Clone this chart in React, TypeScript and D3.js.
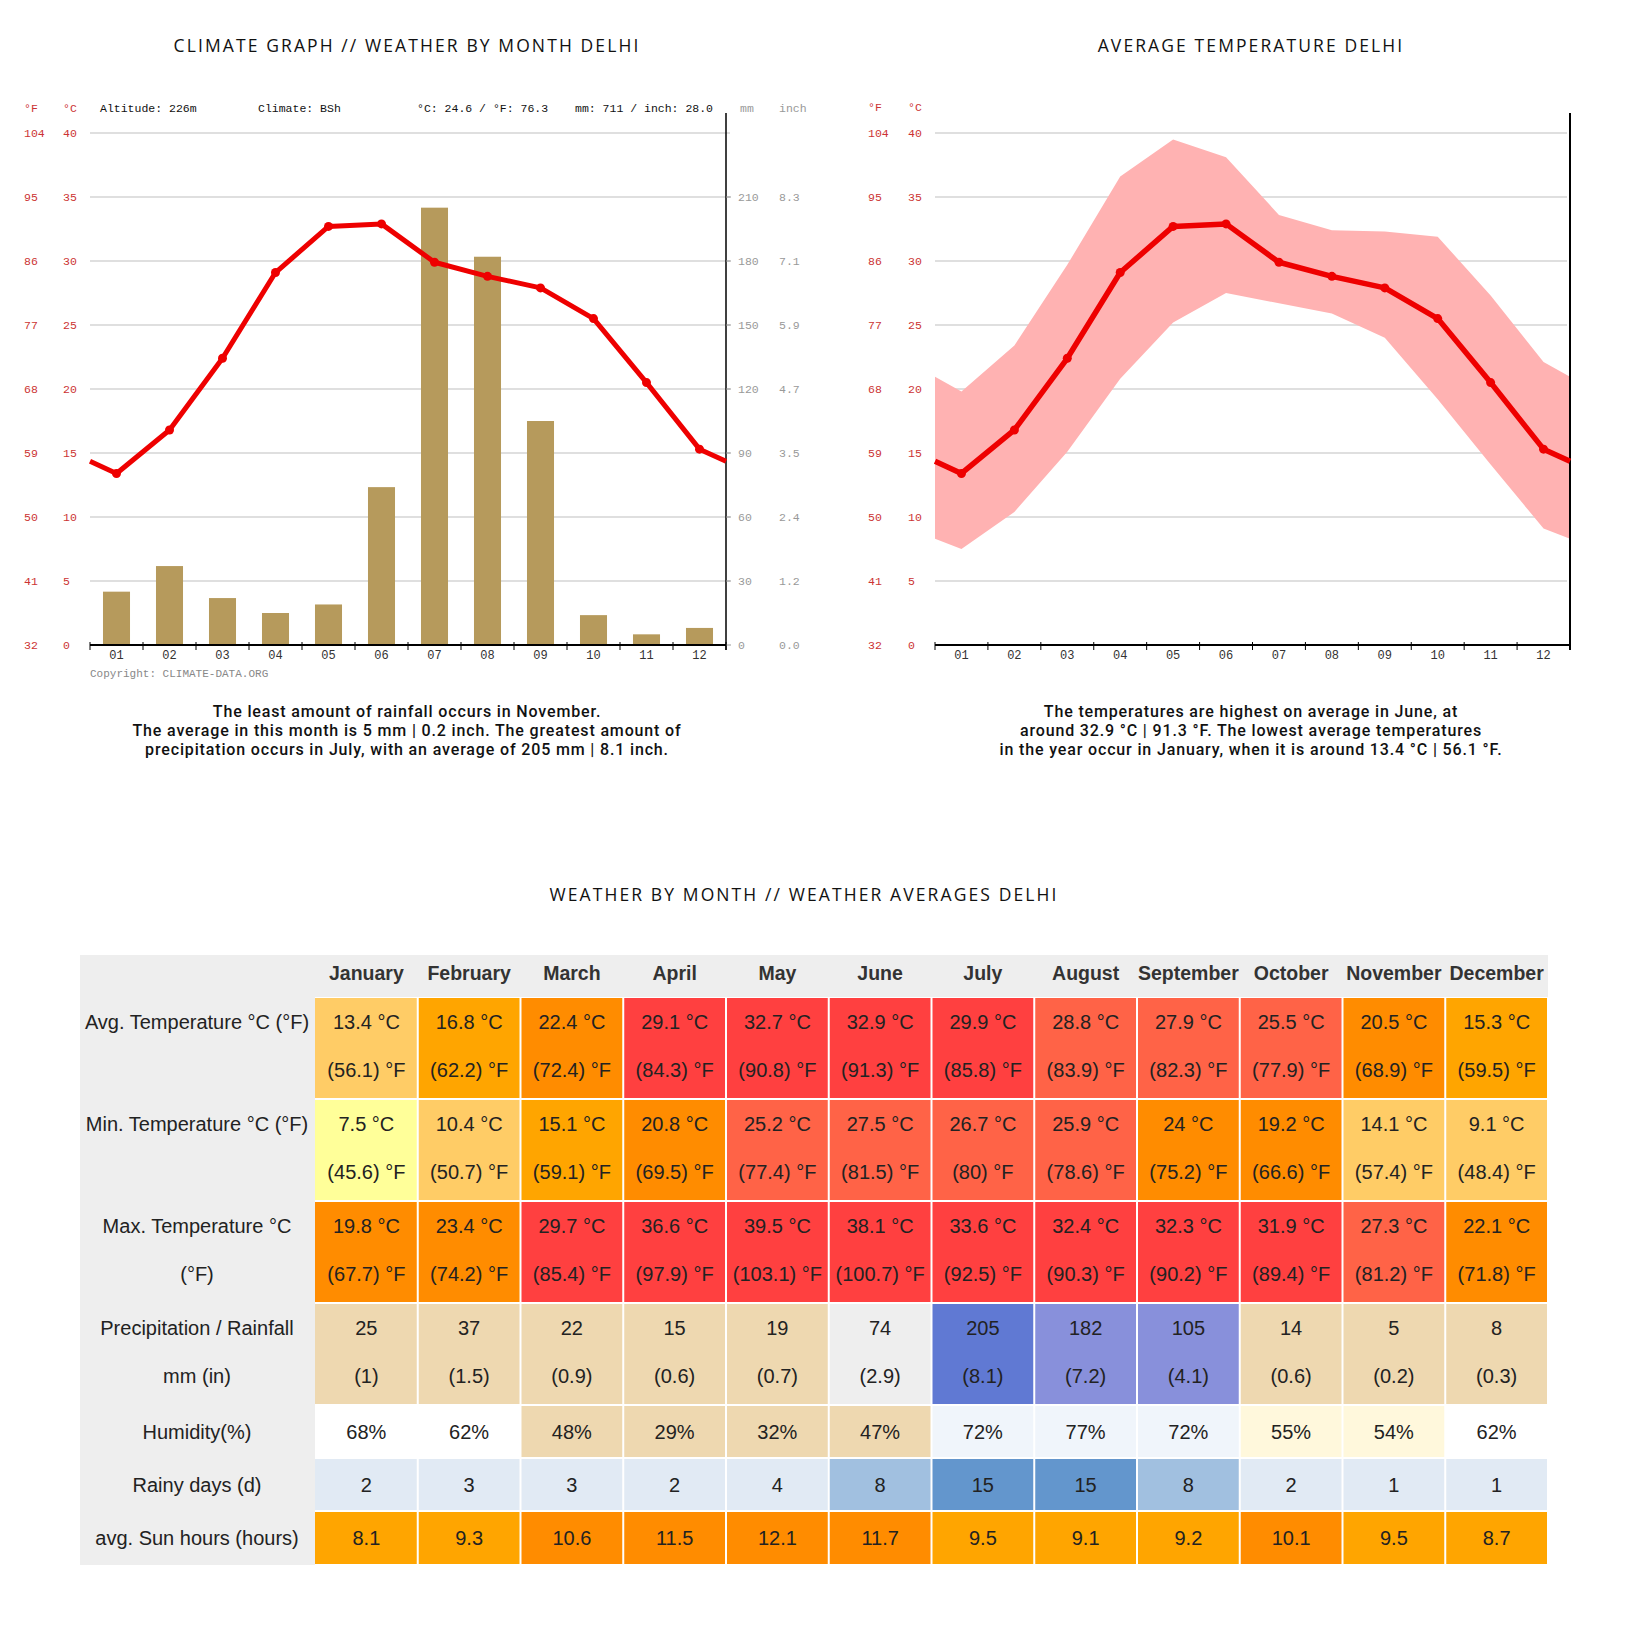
import * as d3 from 'd3'

const months = ['01', '02', '03', '04', '05', '06', '07', '08', '09', '10', '11', '12']
const monthNames = ['January', 'February', 'March', 'April', 'May', 'June', 'July', 'August', 'September', 'October', 'November', 'December']

const avgTempC = [13.4, 16.8, 22.4, 29.1, 32.7, 32.9, 29.9, 28.8, 27.9, 25.5, 20.5, 15.3]
const avgTempF = [56.1, 62.2, 72.4, 84.3, 90.8, 91.3, 85.8, 83.9, 82.3, 77.9, 68.9, 59.5]
const minTempC = [7.5, 10.4, 15.1, 20.8, 25.2, 27.5, 26.7, 25.9, 24, 19.2, 14.1, 9.1]
const minTempF = [45.6, 50.7, 59.1, 69.5, 77.4, 81.5, 80, 78.6, 75.2, 66.6, 57.4, 48.4]
const maxTempC = [19.8, 23.4, 29.7, 36.6, 39.5, 38.1, 33.6, 32.4, 32.3, 31.9, 27.3, 22.1]
const maxTempF = [67.7, 74.2, 85.4, 97.9, 103.1, 100.7, 92.5, 90.3, 90.2, 89.4, 81.2, 71.8]
const precipMm = [25, 37, 22, 15, 19, 74, 205, 182, 105, 14, 5, 8]
const precipIn = [1, 1.5, 0.9, 0.6, 0.7, 2.9, 8.1, 7.2, 4.1, 0.6, 0.2, 0.3]
const humidity = [68, 62, 48, 29, 32, 47, 72, 77, 72, 55, 54, 62]
const rainyDays = [2, 3, 3, 2, 4, 8, 15, 15, 8, 2, 1, 1]
const sunHours = [8.1, 9.3, 10.6, 11.5, 12.1, 11.7, 9.5, 9.1, 9.2, 10.1, 9.5, 8.7]

const celsiusTicks = [0, 5, 10, 15, 20, 25, 30, 35, 40]
const fahrenheitTicks = ['32', '41', '50', '59', '68', '77', '86', '95', '104']
const mmTicks = [0, 30, 60, 90, 120, 150, 180, 210]
const inchTicks = ['0.0', '1.2', '2.4', '3.5', '4.7', '5.9', '7.1', '8.3']

const MONO = '"Liberation Mono", "DejaVu Sans Mono", monospace'
const SANS = '"Liberation Sans", Arial, sans-serif'
const TITLE = '"Open Sans", sans-serif'
const RED = '#ee0000'
const AXIS_RED = '#cc3333'

const top = 133
const bottom = 645

const yTemp = d3.scaleLinear().domain([0, 40]).range([bottom, top])
const yMm = d3.scaleLinear().domain([0, 240]).range([bottom, top])

function tempColor(v: number) {
  if (v < 8) return '#ffff99'
  if (v < 15) return '#ffcc66'
  if (v < 19) return '#ffa500'
  if (v < 25) return '#ff8c00'
  if (v < 29) return '#ff6347'
  return '#ff4040'
}
function precipColor(v: number) {
  if (v < 50) return '#eed8b0'
  if (v < 100) return '#eeeeee'
  if (v < 200) return '#8890db'
  return '#6079d3'
}
function humColor(v: number) {
  if (v < 50) return '#eed8b0'
  if (v < 60) return '#fff8dc'
  if (v <= 70) return '#ffffff'
  return '#f0f5fb'
}
function rainColor(v: number) {
  if (v < 5) return '#e1eaf4'
  if (v < 10) return '#a1c0e0'
  return '#6396cd'
}
function sunColor(v: number) {
  return v < 10 ? '#ffa500' : '#ff8c00'
}

// line through month centres, continued to both edges with the Dec/Jan wrap
function wrapPoints(x: d3.ScaleBand<string>, vals: number[]) {
  const edge = (vals[0] + vals[11]) / 2
  const [x0, x1] = x.range()
  const pts: [number, number][] = [[x0, edge]]
  vals.forEach((v, i) => pts.push([x(months[i])! + x.bandwidth() / 2, v]))
  pts.push([x1, edge])
  return pts
}

function XAxis({ x }: { x: d3.ScaleBand<string> }) {
  const [x0, x1] = x.range()
  const bw = x.step()
  return (
    <g>
      <line x1={x0} x2={x1} y1={bottom} y2={bottom} stroke="#000" strokeWidth={2} />
      {d3.range(13).map(i => (
        <line key={i} x1={x0 + i * bw} x2={x0 + i * bw} y1={bottom - 3} y2={bottom + 5} stroke="#000" strokeWidth={1} />
      ))}
      {months.map(m => (
        <text key={m} x={x(m)! + x.bandwidth() / 2} y={659} textAnchor="middle" fontFamily={MONO} fontSize={12} fill="#333">{m}</text>
      ))}
    </g>
  )
}

function TempLabels({ fx, cx, hy }: { fx: number, cx: number, hy: number }) {
  return (
    <g fontFamily={MONO} fontSize={11.5} fill={AXIS_RED}>
      <text x={fx} y={hy}>°F</text>
      <text x={cx} y={hy}>°C</text>
      {celsiusTicks.map((c, i) => (
        <g key={c}>
          <text x={fx} y={yTemp(c) + 4}>{fahrenheitTicks[i]}</text>
          <text x={cx} y={yTemp(c) + 4}>{c}</text>
        </g>
      ))}
    </g>
  )
}

function Caption({ x, lines }: { x: number, lines: string[] }) {
  return (
    <g fontFamily="Roboto, sans-serif" fontSize={16} fontWeight={500} letterSpacing={0.85} fill="#111" textAnchor="middle">
      {lines.map((l, i) => <text key={i} x={x} y={717 + i * 19}>{l}</text>)}
    </g>
  )
}

function Title({ x, y, children }: { x: number, y: number, children: string }) {
  return (
    <text x={x} y={y} textAnchor="middle" fontFamily={TITLE} fontSize={17.5} fontWeight={500} letterSpacing={2.1} fill="#111">{children}</text>
  )
}

function ClimateChart() {
  const x = d3.scaleBand().domain(months).range([90, 726]).paddingInner(0.49).paddingOuter(0.245)
  const xc = d3.scaleBand().domain(months).range([90, 726])
  const line = d3.line<[number, number]>().x(d => d[0]).y(d => yTemp(d[1]))
  const pts = wrapPoints(xc, avgTempC)
  return (
    <g>
      <Title x={407} y={52}>CLIMATE GRAPH // WEATHER BY MONTH DELHI</Title>
      <TempLabels fx={24} cx={63} hy={112} />
      <g fontFamily={MONO} fontSize={11.5}>
        <text x={100} y={112} fill="#111">Altitude: 226m</text>
        <text x={258} y={112} fill="#111">Climate: BSh</text>
        <text x={417} y={112} fill="#111">°C: 24.6 / °F: 76.3</text>
        <text x={575} y={112} fill="#111">mm: 711 / inch: 28.0</text>
        <text x={740} y={112} fill="#999">mm</text>
        <text x={779} y={112} fill="#999">inch</text>
      </g>
      {celsiusTicks.filter(c => c > 0).map(c => (
        <line key={c} x1={90} x2={730} y1={yTemp(c)} y2={yTemp(c)} stroke="#d4d4d4" strokeWidth={1.6} />
      ))}
      {precipMm.map((v, i) => (
        <rect key={i} x={x(months[i])} y={yMm(v)} width={x.bandwidth()} height={bottom - yMm(v)} fill="#b69a5c" />
      ))}
      <line x1={726} x2={726} y1={113} y2={650} stroke="#000" strokeWidth={1.5} />
      <g fontFamily={MONO} fontSize={11.5} fill="#999">
        {mmTicks.map((m, i) => (
          <g key={m}>
            <line x1={726} x2={731} y1={yMm(m)} y2={yMm(m)} stroke="#999" />
            <text x={738} y={yMm(m) + 4}>{m}</text>
            <text x={779} y={yMm(m) + 4}>{inchTicks[i]}</text>
          </g>
        ))}
      </g>
      <XAxis x={xc} />
      <path d={line(pts)!} fill="none" stroke={RED} strokeWidth={5} strokeLinejoin="round" />
      {pts.slice(1, 13).map((p, i) => (
        <circle key={i} cx={p[0]} cy={yTemp(p[1])} r={4.5} fill={RED} />
      ))}
      <text x={90} y={677} fontFamily={MONO} fontSize={11} fill="#888">Copyright: CLIMATE-DATA.ORG</text>
      <Caption x={407} lines={[
        'The least amount of rainfall occurs in November.',
        'The average in this month is 5 mm | 0.2 inch. The greatest amount of',
        'precipitation occurs in July, with an average of 205 mm | 8.1 inch.'
      ]} />
    </g>
  )
}

function TempChart() {
  const xc = d3.scaleBand().domain(months).range([935, 1570])
  const line = d3.line<[number, number]>().x(d => d[0]).y(d => yTemp(d[1]))
  const minPts = wrapPoints(xc, minTempC)
  const maxPts = wrapPoints(xc, maxTempC)
  const band = d3.area<number>()
    .x((_, i) => minPts[i][0])
    .y0((_, i) => yTemp(minPts[i][1]))
    .y1((_, i) => yTemp(maxPts[i][1]))
  const pts = wrapPoints(xc, avgTempC)
  return (
    <g>
      <Title x={1251} y={52}>AVERAGE TEMPERATURE DELHI</Title>
      <TempLabels fx={868} cx={908} hy={111} />
      {celsiusTicks.filter(c => c > 0).map(c => (
        <line key={c} x1={935} x2={1567} y1={yTemp(c)} y2={yTemp(c)} stroke="#d4d4d4" strokeWidth={1.6} />
      ))}
      <path d={band(d3.range(minPts.length))!} fill="#ffb2b2" />
      <line x1={1570} x2={1570} y1={113} y2={650} stroke="#000" strokeWidth={2} />
      <XAxis x={xc} />
      <path d={line(pts)!} fill="none" stroke={RED} strokeWidth={5.5} strokeLinejoin="round" />
      {pts.slice(1, 13).map((p, i) => (
        <circle key={i} cx={p[0]} cy={yTemp(p[1])} r={4.5} fill={RED} />
      ))}
      <Caption x={1251} lines={[
        'The temperatures are highest on average in June, at',
        'around 32.9 °C | 91.3 °F. The lowest average temperatures',
        'in the year occur in January, when it is around 13.4 °C | 56.1 °F.'
      ]} />
    </g>
  )
}

type Row = { label: string[], lines: string[][], colors: string[], h: number }

function WeatherTable() {
  const left = 80
  const right = 1548
  const cellX = d3.scaleBand().domain(months).range([315, right])
  const headTop = 955
  const headBottom = 997
  const rows: Row[] = [
    { label: ['Avg. Temperature °C (°F)'], lines: [avgTempC.map(v => `${v} °C`), avgTempF.map(v => `(${v}) °F`)], colors: avgTempC.map(tempColor), h: 102 },
    { label: ['Min. Temperature °C (°F)'], lines: [minTempC.map(v => `${v} °C`), minTempF.map(v => `(${v}) °F`)], colors: minTempC.map(tempColor), h: 102 },
    { label: ['Max. Temperature °C', '(°F)'], lines: [maxTempC.map(v => `${v} °C`), maxTempF.map(v => `(${v}) °F`)], colors: maxTempC.map(tempColor), h: 102 },
    { label: ['Precipitation / Rainfall', 'mm (in)'], lines: [precipMm.map(v => `${v}`), precipIn.map(v => `(${v})`)], colors: precipMm.map(precipColor), h: 102 },
    { label: ['Humidity(%)'], lines: [humidity.map(v => `${v}%`)], colors: humidity.map(humColor), h: 53 },
    { label: ['Rainy days (d)'], lines: [rainyDays.map(v => `${v}`)], colors: rainyDays.map(rainColor), h: 53 },
    { label: ['avg. Sun hours (hours)'], lines: [sunHours.map(v => `${v}`)], colors: sunHours.map(sunColor), h: 54 }
  ]
  const tops: number[] = []
  let y = headBottom
  rows.forEach(r => { tops.push(y); y += r.h })
  const tableBottom = y
  return (
    <g fontFamily={SANS} fontSize={20}>
      <Title x={804} y={901}>WEATHER BY MONTH // WEATHER AVERAGES DELHI</Title>
      <rect x={left} y={headTop} width={right - left} height={headBottom - headTop} fill="#eeeeee" />
      <rect x={left} y={headTop} width={315 - left} height={tableBottom - headTop} fill="#eeeeee" />
      {monthNames.map((m, i) => (
        <text key={m} x={cellX(months[i])! + cellX.bandwidth() / 2} y={980} textAnchor="middle" fontWeight="bold" fontSize={19.5} fill="#333">{m}</text>
      ))}
      {rows.map((r, ri) => {
        const t = tops[ri]
        const two = r.h > 60
        const lineY = two ? [t + 25, t + 73] : [t + r.h / 2]
        return (
          <g key={ri}>
            {r.label.map((l, li) => (
              <text key={li} x={197} y={lineY[li] + 7} textAnchor="middle" fill="#222">{l}</text>
            ))}
            {months.map((m, i) => (
              <g key={m}>
                <rect x={cellX(m)! + (i === 0 ? 0 : 1)} y={t + 1} width={cellX.bandwidth() - (i === 0 ? 1 : 2)} height={r.h - 2} fill={r.colors[i]} />
                {r.lines.map((ln, li) => (
                  <text key={li} x={cellX(m)! + cellX.bandwidth() / 2} y={lineY[li] + 7} textAnchor="middle" fill="#222">{ln[i]}</text>
                ))}
              </g>
            ))}
          </g>
        )
      })}
    </g>
  )
}

export default function App() {
  return (
    <svg width={1630} height={1632} viewBox="0 0 1630 1632" style={{ position: 'absolute', left: 0, top: 0, background: '#fff' }}>
      <ClimateChart />
      <TempChart />
      <WeatherTable />
    </svg>
  )
}
